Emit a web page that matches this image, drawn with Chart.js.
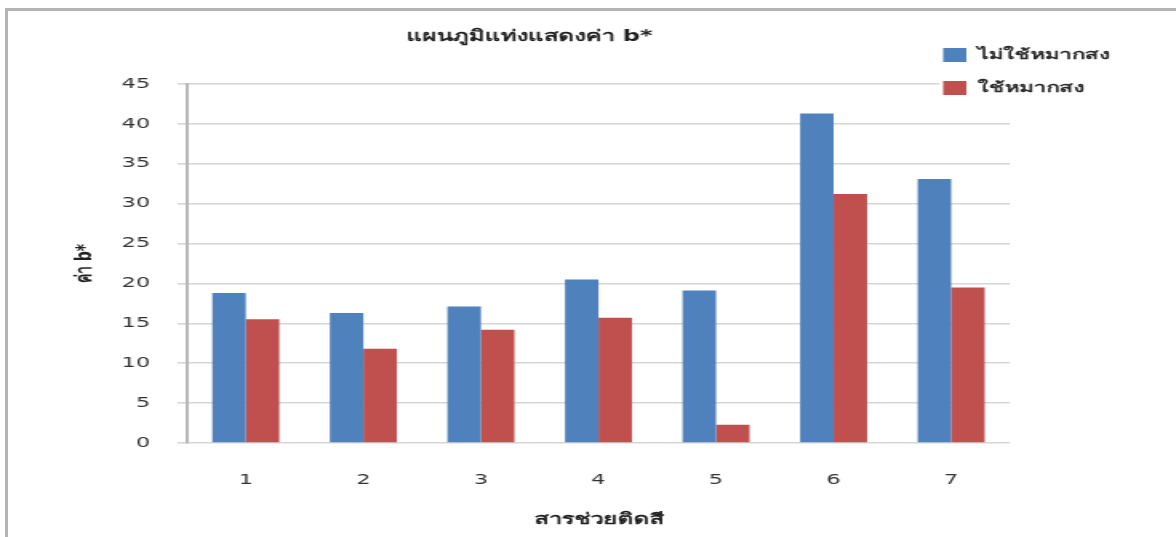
<!DOCTYPE html>
<html>
<head>
<meta charset="utf-8">
<script src="https://cdn.jsdelivr.net/npm/chart.js@4.4.0/dist/chart.umd.min.js"></script>
<style>
  html, body { margin: 0; padding: 0; background: #fff; }
  #wrap { position: relative; width: 1176px; height: 537px; overflow: hidden; background: #fff; }
  #frame { position: absolute; left: 5px; top: 8px; right: -10px; bottom: -10px;
           border-left: 3px solid #b4b4b4; border-top: 3px solid #b4b4b4; }
  #stage { position: absolute; left: 0; top: 0; width: 735px; height: 537px;
           transform: scaleX(1.6); transform-origin: 0 0; }
</style>
</head>
<body>
<div id="wrap">
  <div id="frame"></div>
  <div id="stage"><canvas id="c" width="735" height="537"></canvas></div>
</div>
<script>
// Categories (colouring agents) and b* values for each treatment
const categories = ['1', '2', '3', '4', '5', '6', '7'];
const seriesNames = ['ไม่ใช้หมากสง', 'ใช้หมากสง'];
const withoutBetel = [18.8, 16.3, 17.1, 20.5, 19.1, 41.3, 33.1];
const withBetel = [15.5, 11.8, 14.2, 15.7, 2.3, 31.2, 19.5];
const yTicks = [0, 5, 10, 15, 20, 25, 30, 35, 40, 45];

const chartTitle = 'แผนภูมิแท่งแสดงค่า b*';
const xTitle = 'สารช่วยติดสี';
const yTitle = 'ค่า b*';

const colors = ['#4F81BD', '#C0504D'];
const FONT = "'DejaVu Sans', 'Noto Sans', sans-serif";

// Title and legend are drawn by hand so they can sit at their own spots
const decorations = {
  id: 'decorations',
  afterDraw(chart) {
    const ctx = chart.ctx;
    ctx.save();
    // title
    ctx.fillStyle = '#1f1f1f';
    ctx.font = 'bold 15px ' + FONT;
    ctx.textAlign = 'center';
    ctx.textBaseline = 'middle';
    ctx.fillText(chartTitle, 331, 37);
    // legend box
    ctx.fillStyle = '#ffffff';
    ctx.fillRect(587, 36, 148, 66);
    ctx.font = 'bold 14px ' + FONT;
    ctx.textAlign = 'left';
    chart.data.datasets.forEach((ds, i) => {
      const y = 55 + i * 33;
      ctx.fillStyle = ds.backgroundColor;
      ctx.fillRect(589.5, y - 7, 14.5, 14);
      ctx.fillStyle = '#2a2a2a';
      ctx.fillText(ds.label, 610.5, y);
    });
    ctx.restore();
  }
};

new Chart(document.getElementById('c'), {
  type: 'bar',
  data: {
    labels: categories,
    datasets: [
      { label: seriesNames[0], data: withoutBetel, backgroundColor: colors[0] },
      { label: seriesNames[1], data: withBetel, backgroundColor: colors[1] }
    ]
  },
  options: {
    responsive: false,
    animation: false,
    devicePixelRatio: 1,
    layout: { padding: { left: 43, top: 84, right: 103.75, bottom: 0 } },
    datasets: { bar: { categoryPercentage: 0.57, barPercentage: 1.0 } },
    plugins: {
      legend: { display: false },
      title: { display: false },
      tooltip: { enabled: false }
    },
    scales: {
      x: {
        grid: { display: false, drawTicks: false },
        border: { display: false },
        ticks: { color: '#333', font: { family: FONT, size: 14 }, padding: 29 },
        title: { display: true, text: xTitle, color: '#1f1f1f',
                 font: { family: FONT, size: 15, weight: 'bold' }, padding: { top: 0, bottom: 8 } },
        afterFit(scale) { scale.height = 94; }
      },
      y: {
        min: 0, max: 45,
        afterBuildTicks(scale) { scale.ticks = yTicks.map(v => ({ value: v })); },
        grid: { color: '#d6d6d6', lineWidth: 1.6, tickLength: 6, drawTicks: true },
        border: { display: true, color: '#b8b8b8', width: 2 },
        ticks: { color: '#333', font: { family: FONT, size: 14 }, padding: 17 },
        title: { display: true, text: yTitle, color: '#1f1f1f',
                 font: { family: FONT, size: 14, weight: 'bold' }, padding: { top: 2, bottom: 0 } },
        afterFit(scale) { scale.width = 73.9; }
      }
    }
  },
  plugins: [decorations]
});
</script>
</body>
</html>
